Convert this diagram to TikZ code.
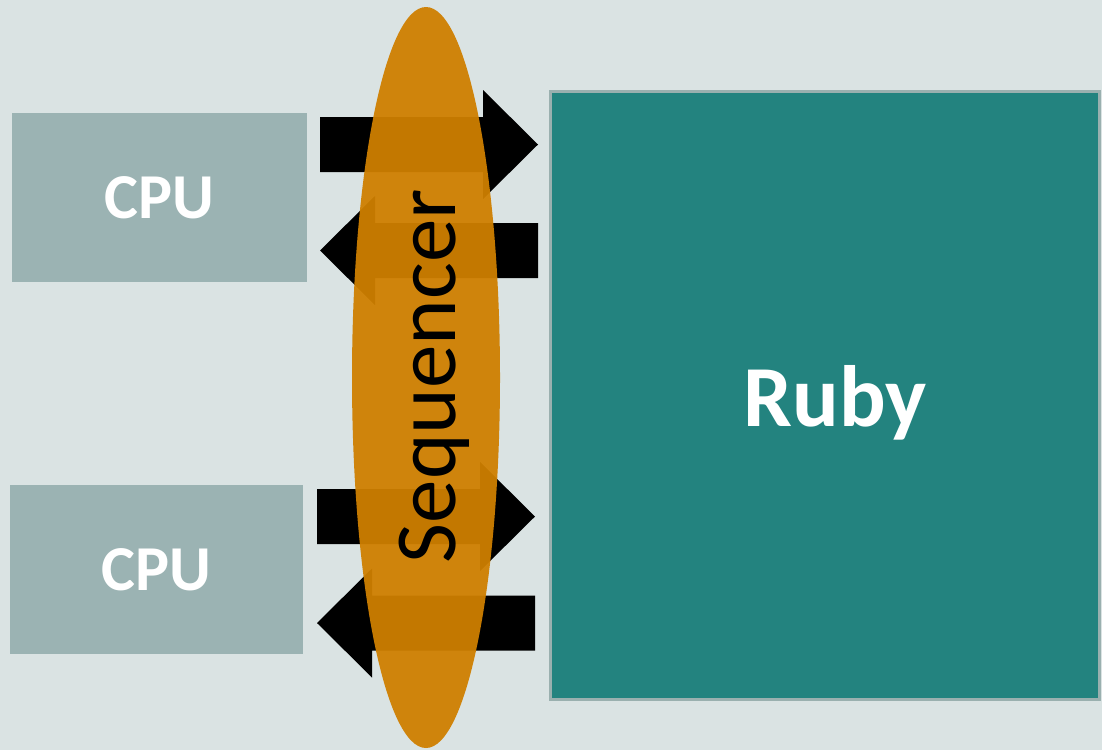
\documentclass[tikz,border=0pt]{standalone}
\usepackage{fontspec}
\setmainfont{Carlito}
\usetikzlibrary{shapes.geometric}

\definecolor{bgcol}{HTML}{DAE3E3}
\definecolor{cpufill}{HTML}{9BB3B3}
\definecolor{rubyfill}{HTML}{23837F}
\definecolor{rubyedge}{HTML}{9AB0AF}
\definecolor{seqorange}{RGB}{207,127,0}

\tikzset{
  cpubox/.style={rectangle, fill=cpufill, inner sep=0pt, outer sep=0pt,
    minimum width=295pt, minimum height=169pt, text=white,
    font=\bfseries\fontsize{64}{64}\selectfont},
  rubybox/.style={rectangle, fill=rubyfill, draw=rubyedge, line width=3pt,
    inner sep=0pt, outer sep=0pt},
  rubylabel/.style={anchor=base, text=white, inner sep=0pt,
    font=\bfseries\fontsize{87}{87}\selectfont},
  seqshape/.style={ellipse, fill=seqorange, fill opacity=0.945, draw=none,
    inner sep=0pt, outer sep=0pt},
  seqtext/.style={rotate=90, anchor=base, text=black,
    font=\fontsize{87}{87}\selectfont},
  % block arrow pointing right, left end at the pic origin
  pics/rarrow/.style={code={
    \fill[black] (0,-27.5) -- (163,-27.5) -- (163,-54.5) -- (218,0)
      -- (163,54.5) -- (163,27.5) -- (0,27.5) -- cycle;}},
  % block arrow pointing left, tip at the pic origin
  pics/larrow/.style={code={
    \fill[black] (218,-27.5) -- (55,-27.5) -- (55,-54.5) -- (0,0)
      -- (55,54.5) -- (55,27.5) -- (218,27.5) -- cycle;}}
}

\begin{document}
\begin{tikzpicture}[x=1pt,y=-1pt]
  \fill[bgcol] (0,0) rectangle (1102,750);
  \useasboundingbox (0,0) rectangle (1102,750);

  % processors and the memory system
  \node[cpubox] (cpu1) at (159.5,197.5) {CPU};
  \node[cpubox, minimum width=293pt] (cpu2) at (156.5,569.5) {CPU};
  \node[rubybox, minimum width=549pt, minimum height=608pt] (ruby) at (825,395.5) {};
  \node[rubylabel] (rubytext) at (835,426) {Ruby};

  % request / response traffic
  \pic at (320,144.5) {rarrow};
  \pic at (320,250.5) {larrow};
  \pic at (317,516.5) {rarrow};
  \pic at (317,623) {larrow};

  % sequencer sitting across the links
  \node[seqshape, minimum width=148pt, minimum height=741pt] (seq) at (426,377.5) {};
  \node[seqtext] (seqlabel) at (455,376) {Sequencer};
\end{tikzpicture}
\end{document}
